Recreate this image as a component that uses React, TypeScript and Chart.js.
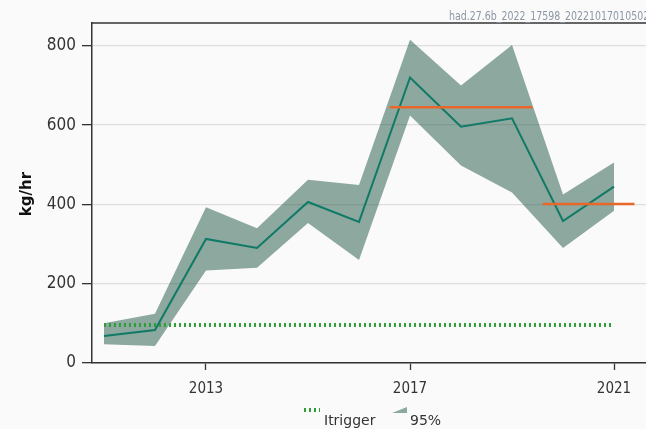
import React, { useEffect, useRef } from "react";
import { Chart, registerables } from "chart.js";
Chart.register(...registerables);

const years = [2011, 2012, 2013, 2014, 2015, 2016, 2017, 2018, 2019, 2020, 2021];
const indexValues = [68, 83, 313, 290, 406, 356, 720, 596, 617, 358, 445];
const upperValues = [100, 124, 393, 340, 462, 449, 815, 700, 802, 425, 506];
const lowerValues = [47, 43, 233, 240, 353, 260, 624, 498, 430, 290, 384];
const itriggerValue = 96;
const itriggerYears = [2011, 2021];
const refStarts = [2016.6, 2019.6];
const refEnds = [2019.4, 2021.4];
const refValues = [645, 401];
const yTicks = [0, 200, 400, 600, 800];
const xTicks = [2013, 2017, 2021];
const watermark = "had.27.6b_2022_17598_20221017010502";
const yTitle = "kg/hr";
const legendLabels = ["Itrigger", "95%"];

const COND = "'DejaVu Sans Condensed', 'DejaVu Sans', sans-serif";
const BAND = "rgba(30,86,68,0.5)";
const BAND_SOLID = "#8aa99f";
const LINE = "#107a66";
const GREEN = "#2f9e3a";
const ORANGE = "#e8682c";

const overlay = {
  id: "overlay",
  beforeDraw(chart: any) {
    const ctx = chart.ctx;
    ctx.save();
    ctx.fillStyle = "#fafafa";
    ctx.fillRect(0, 0, chart.width, chart.height);
    ctx.restore();
  },
  afterDraw(chart: any) {
    const ctx = chart.ctx;
    const a = chart.chartArea;
    ctx.save();
    // top border
    ctx.strokeStyle = "#333";
    ctx.lineWidth = 1.5;
    ctx.beginPath();
    ctx.moveTo(a.left, a.top);
    ctx.lineTo(a.right, a.top);
    ctx.stroke();
    // watermark (narrow font emulated by horizontal scaling)
    ctx.save();
    ctx.translate(449, 20);
    ctx.scale(0.84, 1);
    ctx.fillStyle = "#8b97a5";
    ctx.font = `12.5px ${COND}`;
    ctx.textAlign = "left";
    ctx.textBaseline = "alphabetic";
    ctx.fillText(watermark, 0, 0);
    ctx.restore();
    // y title
    ctx.save();
    ctx.translate(27, 194);
    ctx.rotate(-Math.PI / 2);
    ctx.fillStyle = "#111";
    ctx.font = "bold 15px 'DejaVu Sans', sans-serif";
    ctx.textAlign = "center";
    ctx.textBaseline = "middle";
    ctx.fillText(yTitle, 0, 0);
    ctx.restore();
    // legend
    ctx.strokeStyle = GREEN;
    ctx.lineWidth = 4;
    ctx.setLineDash([2, 3]);
    ctx.beginPath();
    ctx.moveTo(304, 410);
    ctx.lineTo(320, 410);
    ctx.stroke();
    ctx.setLineDash([]);
    ctx.fillStyle = "#333";
    ctx.textAlign = "left";
    ctx.textBaseline = "alphabetic";
    ctx.font = "14px 'DejaVu Sans', sans-serif";
    ctx.fillText(legendLabels[0], 324, 424.5);
    ctx.fillStyle = BAND_SOLID;
    ctx.beginPath();
    ctx.moveTo(392, 413);
    ctx.lineTo(407, 407);
    ctx.lineTo(407, 413);
    ctx.closePath();
    ctx.fill();
    ctx.fillStyle = "#333";
    ctx.fillText(legendLabels[1], 410, 424.5);
    ctx.restore();
  },
};

export default function App() {
  const ref = useRef<HTMLCanvasElement | null>(null);
  useEffect(() => {
    document.body.style.margin = "0";
    const pts = (ys: number[]) => years.map((x, i) => ({ x, y: ys[i] }));
    const chart = new Chart(ref.current as HTMLCanvasElement, {
      type: "line",
      data: {
        datasets: [
          { label: "lower", data: pts(lowerValues), borderWidth: 0, pointRadius: 0, fill: false, order: 6 },
          { label: "95%", data: pts(upperValues), borderWidth: 0, pointRadius: 0, fill: "-1", backgroundColor: BAND, order: 5 },
          {
            label: "Itrigger",
            data: itriggerYears.map((x) => ({ x, y: itriggerValue })),
            borderColor: GREEN,
            borderWidth: 4,
            borderDash: [2, 3],
            pointRadius: 0,
            fill: false,
            order: 4,
          },
          { label: "index", data: pts(indexValues), borderColor: LINE, borderWidth: 2, pointRadius: 0, fill: false, order: 3 },
          ...refValues.map((v, i) => ({
            label: "ref" + i,
            data: [{ x: refStarts[i], y: v }, { x: refEnds[i], y: v }],
            borderColor: ORANGE,
            borderWidth: 2.5,
            pointRadius: 0,
            fill: false,
            order: 1,
          })),
        ] as any,
      },
      options: {
        animation: false,
        responsive: false,
        layout: { padding: { top: 23, right: 0, left: 0, bottom: 0 } },
        plugins: { legend: { display: false }, tooltip: { enabled: false }, title: { display: false } },
        scales: {
          x: {
            type: "linear",
            min: 2010.765,
            max: 2021.627,
            afterBuildTicks: (axis: any) => {
              axis.ticks = xTicks.map((value) => ({ value }));
            },
            afterFit: (axis: any) => {
              axis.height = 66;
            },
            ticks: {
              callback: (v: any) => String(v),
              color: "#333",
              font: { family: COND, size: 15 },
              padding: 10,
              maxRotation: 0,
            },
            grid: { drawOnChartArea: false, tickColor: "#333", tickLength: 7, tickWidth: 1.3 },
            border: { color: "#333", width: 1.5 },
          },
          y: {
            type: "linear",
            min: 0,
            max: 857.5,
            afterBuildTicks: (axis: any) => {
              axis.ticks = yTicks.map((value) => ({ value }));
            },
            afterFit: (axis: any) => {
              axis.width = 92;
            },
            ticks: {
              callback: (v: any) => String(v),
              color: "#333",
              font: { family: COND, size: 17 },
              padding: 6,
            },
            grid: { color: "#dedede", lineWidth: 1.3, tickColor: "#333", tickLength: 10, tickWidth: 1.3 },
            border: { color: "#333", width: 1.5 },
          },
        },
      } as any,
      plugins: [overlay],
    });
    return () => chart.destroy();
  }, []);
  return (
    <div style={{ width: 646, height: 429 }}>
      <canvas ref={ref} width={646} height={429} style={{ display: "block" }} />
    </div>
  );
}
